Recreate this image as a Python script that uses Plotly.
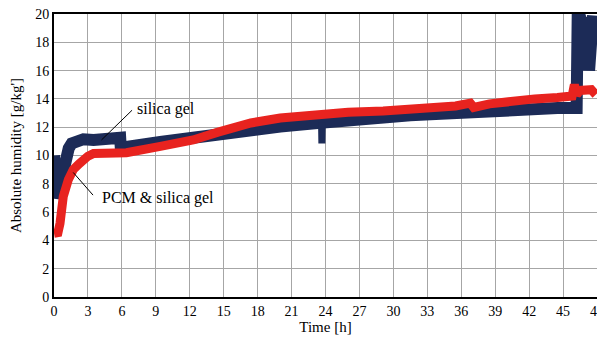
import plotly.graph_objects as go

# Silica gel series (time [h], absolute humidity [g/kg'])
t_silica = [0.0, 0.03, 0.1, 0.24, 0.4, 0.68, 0.97, 1.3, 1.57, 2.0, 2.6, 3.5, 4.5, 5.3, 5.85,
            5.9, 6.4, 9.4, 12.3, 15.0, 17.4, 20.0, 23.3, 26.0, 29.1, 31.5, 34.2, 37.0, 40.1, 42.5,
            44.5, 46.2, 46.3, 46.5, 46.7, 46.8, 47.0, 47.1, 47.3, 47.4, 47.55, 47.65]
h_silica = [10.0, 8.8, 7.6, 7.0, 7.4, 8.3, 9.9, 10.5, 10.85, 11.05, 11.15, 11.1, 11.1, 11.2, 11.25,
            10.6, 10.6, 10.95, 11.3, 11.6, 11.85, 12.05, 12.3, 12.55, 12.75, 12.85, 12.95, 13.1, 13.25, 13.3,
            13.35, 13.35, 20.3, 19.8, 16.8, 19.8, 16.6, 19.8, 16.0, 19.8, 16.0, 19.9]

# Short downward spike of the silica gel series near 23.7 h
t_dip = [23.65, 23.68, 23.71]
h_dip = [12.35, 10.85, 12.35]

# PCM & silica gel series
t_pcm = [0.0, 0.35, 0.53, 0.82, 1.27, 1.7, 2.2, 2.6, 3.0, 3.5, 4.5, 5.5, 6.4,
         9.4, 12.3, 14.5, 16.0, 17.4, 20.0, 23.3, 26.0, 29.1, 31.5, 34.2, 35.5, 36.8, 37.1,
         38.5, 40.1, 42.5, 44.5, 45.8, 46.0, 46.2, 46.5, 47.0, 47.5, 47.9]
h_pcm = [4.5, 4.55, 5.2, 7.1, 8.3, 9.0, 9.4, 9.7, 9.95, 10.15, 10.2, 10.2, 10.2,
         10.65, 11.1, 11.65, 12.0, 12.3, 12.65, 12.95, 13.05, 13.15, 13.25, 13.4, 13.5, 13.7, 13.4,
         13.65, 13.85, 14.0, 14.1, 14.2, 15.0, 14.3, 14.6, 14.6, 14.65, 14.3]

x_ticks = list(range(0, 49, 3))
y_ticks = list(range(0, 21, 2))

font = "Liberation Serif"
navy = "#1c2b57"
red = "#e8231f"

fig = go.Figure()
fig.add_trace(go.Scatter(x=t_silica, y=h_silica, mode="lines", name="silica gel",
                         line=dict(color=navy, width=12), showlegend=False))
fig.add_trace(go.Scatter(x=t_dip, y=h_dip, mode="lines", name="silica gel dip",
                         line=dict(color=navy, width=7), showlegend=False))
fig.add_trace(go.Scatter(x=t_pcm, y=h_pcm, mode="lines", name="PCM & silica gel",
                         line=dict(color=red, width=9), showlegend=False))

# Leader lines
fig.add_shape(type="line", x0=4.2, y0=11.1, x1=6.9, y1=13.2, line=dict(color="black", width=1))
fig.add_shape(type="line", x0=1.7, y0=8.8, x1=3.45, y1=7.2, line=dict(color="black", width=1))
fig.add_annotation(x=7.2, y=13.3, text="silica gel", showarrow=False, xanchor="left",
                   font=dict(family=font, size=16, color="black"))
fig.add_annotation(x=4.1, y=7.0, text="PCM &amp; silica gel", showarrow=False, xanchor="left",
                   font=dict(family=font, size=16, color="black"))

fig.update_xaxes(range=[0, 48], tickvals=x_ticks, ticktext=[str(v) for v in x_ticks],
                 showgrid=True, gridcolor="#a6a6a6", gridwidth=1, automargin=False,
                 ticklabeloverflow="allow",
                 showline=True, linecolor="black", linewidth=2, mirror=True, zeroline=False,
                 title=dict(text="Time [h]", font=dict(family=font, size=15, color="black"), standoff=3),
                 tickfont=dict(family=font, size=14, color="black"))
fig.update_yaxes(range=[0, 20], tickvals=y_ticks, ticktext=[str(v) for v in y_ticks],
                 showgrid=True, gridcolor="#a6a6a6", gridwidth=1, automargin=False,
                 ticklabeloverflow="allow",
                 showline=True, linecolor="black", linewidth=2, mirror=True, zeroline=False,
                 title=dict(text="Absolute humidity [g/kg']", font=dict(family=font, size=15, color="black"), standoff=11),
                 tickfont=dict(family=font, size=14, color="black"))

# the page adds an 8px body margin, so margins are shifted to land on the reference's plot box
fig.update_layout(width=605, height=341, margin=dict(l=46, r=16, t=6, b=52),
                  plot_bgcolor="white", paper_bgcolor="white")

fig.write_html("out.html")
